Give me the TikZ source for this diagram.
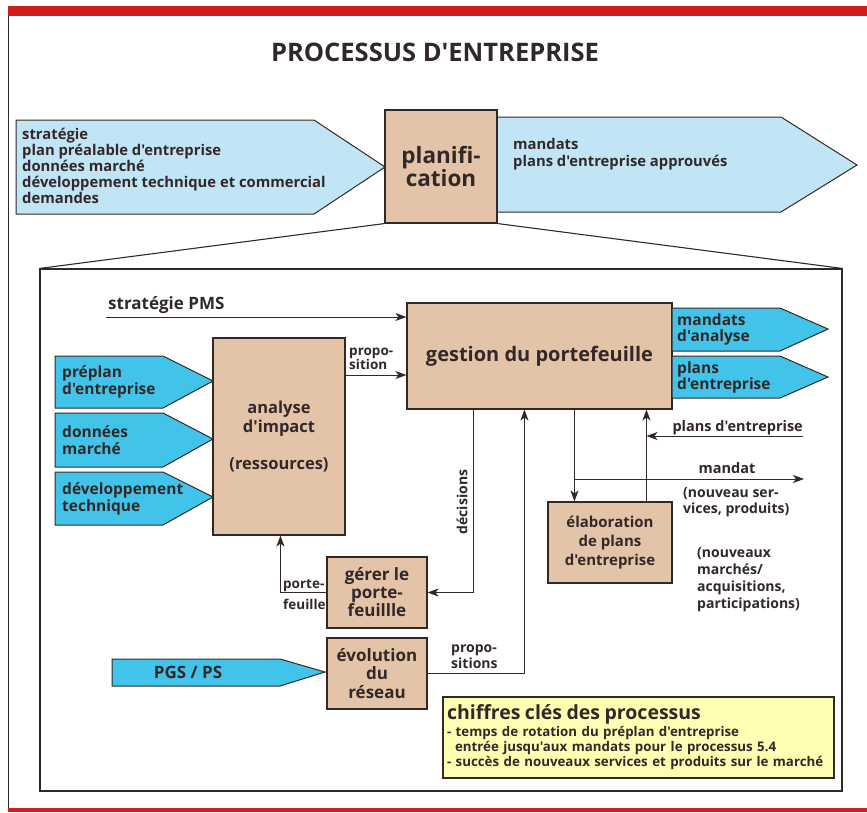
\documentclass[tikz,border=0pt]{standalone}
\usepackage{fontspec}
\setmainfont{Open Sans}[Ligatures=TeXOff]
\usetikzlibrary{arrows.meta}
\definecolor{beige}{RGB}{228,196,168}
\definecolor{cyanarrow}{RGB}{66,196,234}
\definecolor{paleblue}{RGB}{194,229,246}
\definecolor{paleyellow}{RGB}{255,255,180}
\definecolor{redbar}{RGB}{210,30,26}
\definecolor{ink}{RGB}{50,40,40}
\newcommand{\setsz}[2]{\fontsize{#1}{#2}\selectfont\bfseries}
\begin{document}
\begin{tikzpicture}[x=1pt, y=-1pt,
    txt/.style={text=ink, inner sep=0pt, align=left},
    box/.style={draw=ink, line width=1.1pt, fill=beige, inner sep=0pt, align=center, text=ink},
    toparrow/.style={draw=ink, line width=1pt, fill=paleblue},
    inarrow/.style={draw=ink, line width=1pt, fill=cyanarrow},
    arr/.style={draw=ink, line width=1pt, -{Stealth[length=11pt, width=8pt, inset=3pt]}}]
\useasboundingbox (0,0) rectangle (867,812);
\fill[redbar] (8,6) rectangle (867,16);
\fill[redbar] (8,808) rectangle (867,812);
\draw[ink, line width=0.9pt] (8,16) -- (8,808);

\node[txt, font=\setsz{25.5}{28}] (title) at (435,52) {PROCESSUS D'ENTREPRISE};

\draw[toparrow] (16,120) -- (314,120) -- (385,167) -- (314,214) -- (16,214) -- cycle;
\draw[toparrow] (497,117) -- (781,117) -- (857,165) -- (781,212) -- (497,212) -- cycle;
\node[box, minimum width=112pt, minimum height=113pt, font=\setsz{22.5}{23}] (plan) at (441,166.5) {planifi-\\cation};
\node[txt, anchor=west, font=\setsz{14.8}{16}] (inputs) at (22,166) {stratégie\\plan préalable d'entreprise\\données marché\\développement technique et commercial\\demandes};
\node[txt, anchor=west, font=\setsz{14.8}{16.5}] (outputs) at (513,154) {mandats\\plans d'entreprise approuvés};

\node[draw=ink, line width=1.1pt, minimum width=802pt, minimum height=522pt, inner sep=0pt] (frame) at (441,530) {};
\draw[ink, line width=1.1pt] (plan.south west) -- (frame.north west);
\draw[ink, line width=1.1pt] (plan.south east) -- (frame.north east);

\node[box, minimum width=265pt, minimum height=106pt, font=\setsz{20}{22}] (gestion) at (539.5,356) {gestion du portefeuille};
\node[box, minimum width=132pt, minimum height=197pt, font=\setsz{16.5}{19}] (analyse) at (279,436.5) {analyse\\d'impact\\[18pt](ressources)};
\node[box, minimum width=100pt, minimum height=71pt, font=\setsz{17}{18}] (gerer) at (377,592.5) {gérer le\\porte-\\feuillle};
\node[box, minimum width=100pt, minimum height=71pt, font=\setsz{17}{18.5}] (evolution) at (377,673.5) {évolution\\du\\réseau};
\node[box, minimum width=124pt, minimum height=81pt, font=\setsz{15}{19}] (elaboration) at (610,542.5) {élaboration\\de plans\\d'entreprise};

\draw[inarrow] (55,356) -- (163,356) -- (213,381) -- (163,408) -- (55,408) -- cycle;
\draw[inarrow] (55,413) -- (163,413) -- (213,439) -- (163,467) -- (55,467) -- cycle;
\draw[inarrow] (55,472) -- (163,472) -- (213,497) -- (163,525) -- (55,525) -- cycle;
\draw[inarrow] (672,308) -- (780,308) -- (828,329) -- (780,351) -- (672,351) -- cycle;
\draw[inarrow] (672,356) -- (780,356) -- (828,377) -- (780,398) -- (672,398) -- cycle;
\draw[inarrow] (112,659) -- (280,659) -- (325,672) -- (280,686) -- (112,686) -- cycle;
\node[txt, anchor=west, font=\setsz{15.5}{17}] (preplan) at (62,382) {préplan\\d'entreprise};
\node[txt, anchor=west, font=\setsz{15.5}{17}] (donnees) at (62,440) {données\\marché};
\node[txt, anchor=west, font=\setsz{15.5}{17}] (devtech) at (62,499) {développement\\technique};
\node[txt, anchor=west, font=\setsz{15.5}{16}] (mandana) at (677,329) {mandats\\d'analyse};
\node[txt, anchor=west, font=\setsz{15.5}{16}] (plansent) at (677,377) {plans\\d'entreprise};
\node[txt, font=\setsz{17}{18}] (pgs) at (188,672) {PGS / PS};

\coordinate (pms) at (106,317);
\draw[arr] (pms) -- (pms -| gestion.west);
\node[txt, anchor=base west, font=\setsz{17}{18}] (pmslabel) at (108,309) {stratégie PMS};

\draw[arr] (analyse.east |- 0,375) -- (gestion.west |- 0,375);
\node[txt, anchor=base west, font=\setsz{13.5}{14}] (proplabel) at (349,369) {propo-\\sition};

\draw[arr] ([xshift=67pt]gestion.south west) |- (gerer.east);
\node[txt, rotate=90, font=\setsz{14}{15}] (declabel) at (462,502) {décisions};

\draw[arr] (gerer.west) -| ([xshift=68pt]analyse.south west);
\node[txt, anchor=base west, font=\setsz{13.5}{21}] (pflabel) at (283,609) {porte-\\feuille};

\draw[arr] (evolution.east) -| ([xshift=118pt]gestion.south west);
\node[txt, anchor=base west, font=\setsz{14}{16}] (propslabel) at (451,668) {propo-\\sitions};

\draw[arr] ([xshift=168pt]gestion.south west) -- ([xshift=168pt]gestion.south west |- elaboration.north);
\draw[arr] ([xshift=99pt]elaboration.north west) -- ([xshift=99pt]elaboration.north west |- gestion.south);

\coordinate (planin) at (803,436);
\draw[arr] (planin) -- ([xshift=99pt]elaboration.north west |- planin);
\node[txt, anchor=base east, font=\setsz{14.5}{16}] (planinlabel) at (803,431) {plans d'entreprise};

\coordinate (mandatout) at (804,479);
\draw[arr] ([xshift=168pt]gestion.south west |- mandatout) -- (mandatout);
\node[txt, anchor=base, font=\setsz{14.5}{16}] (mandatlabel) at (727,473) {mandat};
\node[txt, anchor=base west, font=\setsz{14}{16}] (newserv) at (683,513) {(nouveau ser-\\vices, produits)};
\node[txt, anchor=base west, font=\setsz{14}{16.7}] (newmark) at (697,608) {(nouveaux\\marchés/\\acquisitions,\\participations)};

\node[draw=ink, line width=1.1pt, fill=paleyellow, minimum width=391pt, minimum height=81pt, text width=383pt, inner xsep=4pt, inner ysep=0pt, align=left, text=ink, font=\setsz{13.3}{15}] (chiffres) at (638.5,737.5)
  {{\fontsize{19.5}{21}\selectfont chiffres clés des processus}\\[2pt]
   - temps de rotation du préplan d'entreprise\\
   \hspace*{8pt}entrée jusqu'aux mandats pour le processus 5.4\\
   - succès de nouveaux services et produits sur le marché};
\end{tikzpicture}
\end{document}
